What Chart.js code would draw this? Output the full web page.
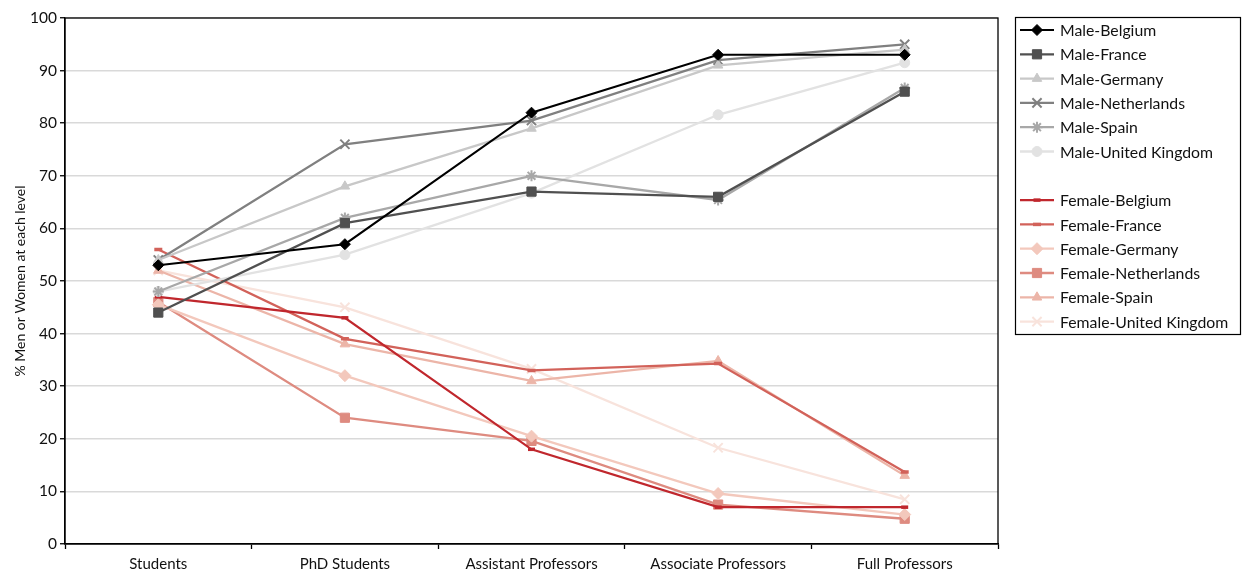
<!DOCTYPE html>
<html>
<head>
<meta charset="utf-8">
<script src="https://cdn.jsdelivr.net/npm/chart.js@4"></script>
<style>
  html, body { margin: 0; padding: 0; background: #fff; }
  #wrap { width: 1243px; height: 574px; }
</style>
</head>
<body>
<div id="wrap"><canvas id="myChart" width="1243" height="574"></canvas></div>
<script>
// categories (x axis)
var levels = ["Students", "PhD Students", "Assistant Professors", "Associate Professors", "Full Professors"];

// y axis
var yMin = 0, yMax = 100, yStep = 10;

// series values, % at each level
var maleBelgium     = [53, 57, 82, 93, 93];
var maleFrance      = [44, 61, 67, 66, 86];
var maleGermany     = [54, 68, 79, 91, 94];
var maleNetherlands = [54, 76, 80.5, 92, 95];
var maleSpain       = [48, 62, 70, 65.4, 86.7];
var maleUK          = [48, 55, 66.7, 81.6, 91.5];

var femaleBelgium     = [47, 43, 18, 7, 7];
var femaleFrance      = [56, 39, 33, 34.3, 13.7];
var femaleGermany     = [45.5, 32, 20.5, 9.6, 5.6];
var femaleNetherlands = [46, 24, 19.6, 7.5, 4.8];
var femaleSpain       = [52, 38, 31, 34.8, 13];
var femaleUK          = [52, 45, 33.3, 18.3, 8.5];

var seriesNames = [
  "Male-Belgium", "Male-France", "Male-Germany", "Male-Netherlands", "Male-Spain", "Male-United Kingdom",
  "Female-Belgium", "Female-France", "Female-Germany", "Female-Netherlands", "Female-Spain", "Female-United Kingdom"
];
var seriesValues = [
  maleBelgium, maleFrance, maleGermany, maleNetherlands, maleSpain, maleUK,
  femaleBelgium, femaleFrance, femaleGermany, femaleNetherlands, femaleSpain, femaleUK
];

// styles: colour, marker, marker radius
var styles = [
  { color: "#000000", marker: "rectRot",  r: 5.5 },
  { color: "#505050", marker: "rect",     r: 6.5 },
  { color: "#c8c8c8", marker: "triangle", r: 5.5 },
  { color: "#808080", marker: "crossRot", r: 6.5 },
  { color: "#a8a8a8", marker: "star",     r: 5.5 },
  { color: "#e2e2e2", marker: "circle",   r: 5 },
  { color: "#c0272d", marker: "line",     r: 3.5 },
  { color: "#d2625a", marker: "line",     r: 4 },
  { color: "#f3c8bc", marker: "rectRot",  r: 6 },
  { color: "#de8b80", marker: "rect",     r: 6.5 },
  { color: "#ecb5a8", marker: "triangle", r: 5.5 },
  { color: "#f8e3dc", marker: "crossRot", r: 6.5 }
];

var FONT = "Lato, 'Open Sans', sans-serif";
var TEXT = "#111111";

var datasets = seriesNames.map(function (name, i) {
  var s = styles[i];
  var isDash = s.marker === "line";
  return {
    label: name,
    data: seriesValues[i],
    borderColor: s.color,
    backgroundColor: s.color,
    borderWidth: i === 0 ? 2 : 2.3,
    pointStyle: s.marker,
    pointRadius: s.r,
    pointHoverRadius: s.r,
    pointBackgroundColor: s.color,
    pointBorderColor: s.color,
    pointBorderWidth: isDash ? 3.5 : (s.marker === "crossRot" || s.marker === "star" ? 2 : 1),
    tension: 0,
    fill: false
  };
});

// black frame round the plot area
var frame = {
  id: "frame",
  beforeDatasetsDraw: function (chart) {
    var ctx = chart.ctx, a = chart.chartArea;
    ctx.save();
    ctx.strokeStyle = "#000";
    ctx.lineWidth = 1.3;
    ctx.strokeRect(a.left, a.top, a.right - a.left, a.bottom - a.top);
    ctx.restore();
  }
};

// legend box on the right, with a blank row between men and women
var sideLegend = {
  id: "sideLegend",
  afterDraw: function (chart) {
    var ctx = chart.ctx;
    ctx.save();
    ctx.strokeStyle = "#000";
    ctx.lineWidth = 1.2;
    ctx.strokeRect(1015.5, 17.5, 225, 317);
    var row = 0;
    chart.data.datasets.forEach(function (ds, i) {
      if (i === 6) row++;
      var y = 30 + row * 24.3;
      ctx.strokeStyle = ds.borderColor;
      ctx.lineWidth = ds.borderWidth;
      ctx.beginPath();
      ctx.moveTo(1020, y);
      ctx.lineTo(1054, y);
      ctx.stroke();
      ctx.fillStyle = ds.pointBackgroundColor;
      ctx.strokeStyle = ds.pointBorderColor;
      ctx.lineWidth = ds.pointBorderWidth;
      if (Chart.helpers && Chart.helpers.drawPoint) {
        Chart.helpers.drawPoint(ctx, {
          pointStyle: ds.pointStyle, radius: ds.pointRadius, rotation: 0, borderWidth: ds.pointBorderWidth
        }, 1037, y);
      } else {
        ctx.beginPath();
        ctx.arc(1037, y, 4, 0, Math.PI * 2);
        ctx.fill();
      }
      ctx.fillStyle = TEXT;
      ctx.font = "15.8px " + FONT;
      ctx.textBaseline = "middle";
      ctx.textAlign = "left";
      ctx.fillText(ds.label, 1060, y + 1);
      row++;
    });
    ctx.restore();
  }
};

var ctx = document.getElementById("myChart").getContext("2d");
var chart = new Chart(ctx, {
  type: "line",
  data: {
    labels: levels,
    datasets: datasets
  },
  options: {
    responsive: false,
    animation: false,
    layout: { padding: { left: 8, top: 18, right: 245, bottom: 2 } },
    plugins: {
      legend: { display: false },
      tooltip: { enabled: false }
    },
    scales: {
      x: {
        type: "category",
        offset: true,
        afterFit: function (scale) { scale.height = 28; },
        grid: {
          offset: true,
          drawOnChartArea: false,
          drawTicks: true,
          tickLength: 5,
          tickColor: "#000",
          tickWidth: 1.3
        },
        border: { color: "#000", width: 1.3 },
        ticks: {
          color: TEXT,
          padding: 6,
          maxRotation: 0,
          font: { family: FONT, size: 15 }
        }
      },
      y: {
        min: yMin,
        max: yMax,
        afterFit: function (scale) { scale.width = 57; },
        grid: {
          color: "#d9d9d9",
          lineWidth: 1.5,
          tickLength: 5,
          tickColor: "#000",
          tickWidth: 1.3
        },
        border: { color: "#000", width: 1.3 },
        ticks: {
          stepSize: yStep,
          color: TEXT,
          padding: 3,
          font: { family: FONT, size: 15.5 }
        },
        title: {
          display: true,
          text: "% Men or Women at each level",
          color: TEXT,
          padding: { top: 4, bottom: 2 },
          font: { family: FONT, size: 14 }
        }
      }
    }
  },
  plugins: [frame, sideLegend]
});
</script>
</body>
</html>
